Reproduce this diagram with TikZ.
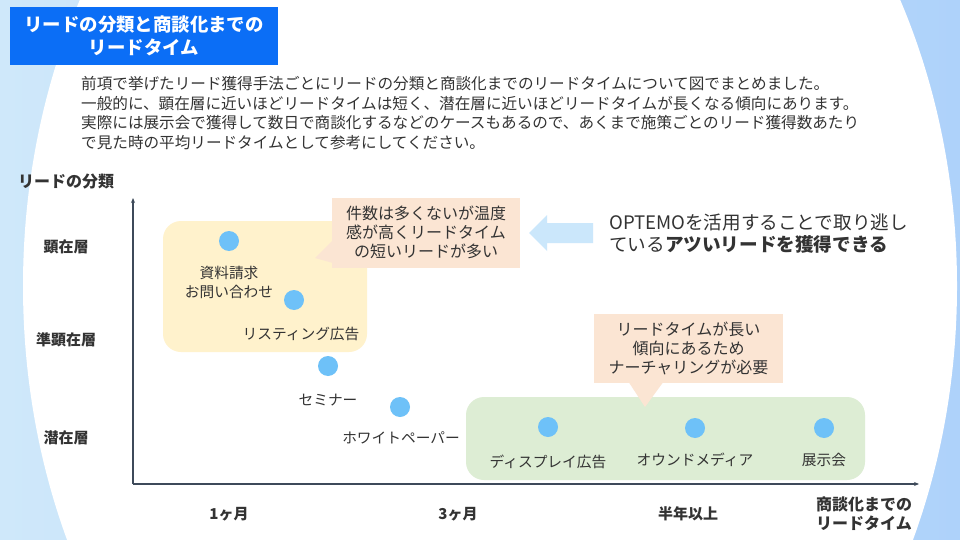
\documentclass[tikz,border=0pt]{standalone}
\usepackage{fontspec}
\setmainfont{Noto Sans CJK JP}
\usetikzlibrary{arrows.meta}
\definecolor{bgblueL}{HTML}{CFE8FA}
\definecolor{bgblueR}{HTML}{AED2FA}
\definecolor{titleblue}{HTML}{0B6EF6}
\definecolor{txt}{HTML}{333333}
\definecolor{yellowbox}{HTML}{FFF2CC}
\definecolor{peach}{HTML}{FBE5D3}
\definecolor{greenbox}{HTML}{DDEDD4}
\definecolor{dotblue}{HTML}{6EC1F8}
\definecolor{arrowblue}{HTML}{CBE7FB}
\definecolor{axiscol}{HTML}{3E4A5A}
\tikzset{
  dot/.style={circle, fill=dotblue, minimum size=20pt, inner sep=0pt},
  lbl/.style={text=txt, font=\fontsize{14.7}{19}\selectfont, align=center, inner sep=0pt},
  axlbl/.style={text=txt, font=\fontsize{15}{19}\selectfont\bfseries, align=center, inner sep=0pt},
  body/.style={text=txt, font=\fontsize{15.6}{19.5}\selectfont, anchor=west, inner sep=0pt},
  callout/.style={fill=peach, text=txt, font=\fontsize{16}{19}\selectfont, align=center, inner sep=0pt},
  areabox/.style={rounded corners=18pt, inner sep=0pt},
  axis/.style={draw=axiscol, line width=1.1pt, -{Stealth[length=5pt,width=4pt]}}
}
\begin{document}
\begin{tikzpicture}[x=1pt,y=-1pt]
\useasboundingbox (0,0) rectangle (960,540);
% background
\shade[left color=bgblueL, right color=bgblueR] (0,0) rectangle (960,540);
\fill[white] (490,286) ellipse [x radius=467, y radius=598];
% title
\node[fill=titleblue, text=white, font=\fontsize{18.4}{23}\selectfont\bfseries, align=center,
      minimum width=268pt, minimum height=58pt, inner sep=0pt] (title) at (144,36)
      {リードの分類と商談化までの\\リードタイム};
% body text
\node[body] (b1) at (81,84) {前項で挙げたリード獲得手法ごとにリードの分類と商談化までのリードタイムについて図でまとめました。};
\node[body] (b2) at (81,103.5) {一般的に、顕在層に近いほどリードタイムは短く、潜在層に近いほどリードタイムが長くなる傾向にあります。};
\node[body] (b3) at (81,123) {実際には展示会で獲得して数日で商談化するなどのケースもあるので、あくまで施策ごとのリード獲得数あたり};
\node[body] (b4) at (81,142.5) {で見た時の平均リードタイムとして参考にしてください。};
% area boxes
\node[areabox, fill=yellowbox, minimum width=204pt, minimum height=131pt] (ybox) at (265,286.5) {};
\node[areabox, fill=greenbox, minimum width=399pt, minimum height=83pt] (gbox) at (665.5,438.5) {};
% axes
\coordinate (o) at (133,484);
\coordinate (ytop) at (133,198);
\coordinate (xend) at (919,484);
\draw[axis] (o) -- (ytop);
\draw[axis] (o) -- (xend);
% axis labels
\node[axlbl, font=\fontsize{16}{19}\selectfont\bfseries] (ytitle) at (66,182) {リードの分類};
\node[axlbl] (y1) at (66,247) {顕在層};
\node[axlbl] (y2) at (66,340) {準顕在層};
\node[axlbl] (y3) at (66,438) {潜在層};
\node[axlbl] (x1) at (229,514) {1ヶ月};
\node[axlbl] (x2) at (458,514) {3ヶ月};
\node[axlbl] (x3) at (688,514) {半年以上};
\node[axlbl, font=\fontsize{16}{19.5}\selectfont\bfseries] (xtitle) at (864,514) {商談化までの\\リードタイム};
% callouts
\fill[peach] (333,240) -- (315,258) -- (333,263) -- cycle;
\node[callout, minimum width=188pt, minimum height=70pt] (c1) at (426,232.5)
  {件数は多くないが温度\\感が高くリードタイム\\の短いリードが多い};
\fill[peach] (628,381) -- (645,407) -- (664,381) -- cycle;
\node[callout, minimum width=189pt, minimum height=69pt] (c2) at (688.5,348)
  {リードタイムが長い\\傾向にあるため\\ナーチャリングが必要};
% left arrow
\fill[arrowblue] (593,223) -- (547,223) -- (547,215) -- (529,233) -- (547,251) -- (547,243) -- (593,243) -- cycle;
\node[anchor=west, inner sep=0pt, text=txt, font=\fontsize{18.6}{22}\selectfont] (opt1) at (609,222) {OPTEMOを活用することで取り逃し};
\node[anchor=west, inner sep=0pt, text=txt, font=\fontsize{18.6}{22}\selectfont] (opt2) at (609,244) {ている\textbf{アツいリードを獲得できる}};
% dots
\node[dot] (d1) at (229,241) {};
\node[dot] (d2) at (294,300) {};
\node[dot] (d3) at (328,366) {};
\node[dot] (d4) at (400,407) {};
\node[dot] (d5) at (548,427) {};
\node[dot] (d6) at (695,428) {};
\node[dot] (d7) at (824,428) {};
% labels
\node[lbl] (l1) at (229,282.5) {資料請求\\お問い合わせ};
\node[lbl] (l2) at (301,334) {リスティング広告};
\node[lbl] (l3) at (328,400) {セミナー};
\node[lbl] (l4) at (401,438) {ホワイトペーパー};
\node[lbl] (l5) at (548,462) {ディスプレイ広告};
\node[lbl] (l6) at (695,460) {オウンドメディア};
\node[lbl] (l7) at (824,460) {展示会};
\end{tikzpicture}
\end{document}
